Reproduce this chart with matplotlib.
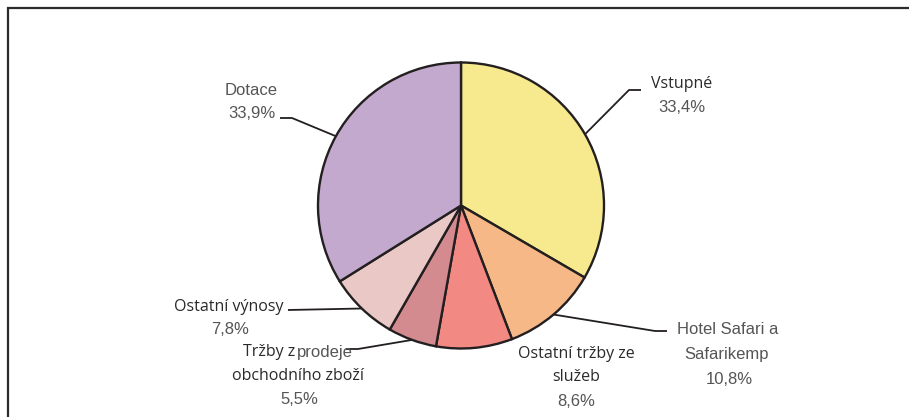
import numpy as np
import matplotlib.pyplot as plt

W, H = 909, 417

categories = ["Vstupné", "Hotel Safari a Safarikemp", "Ostatní tržby ze služeb",
              "Tržby z prodeje obchodního zboží", "Ostatní výnosy", "Dotace"]
shares = [33.4, 10.8, 8.6, 5.5, 7.8, 33.9]
pct_text = ["33,4%", "10,8%", "8,6%", "5,5%", "7,8%", "33,9%"]
colors = ["#f7e98e", "#f6b887", "#f28983", "#d48b8f", "#eac8c6", "#c4a9cf"]

DARK = dict(family=["Open Sans", "DejaVu Sans"], color="#2a2a2a", fontsize=11.5)
THIN = dict(family=["Liberation Sans Narrow", "Liberation Sans", "DejaVu Sans"],
            color="#555555", fontsize=12)


def py(y):
    # pixel row (from top) -> data y
    return H - y


fig = plt.figure(figsize=(W / 100, H / 100), dpi=100)
ax = fig.add_axes([0, 0, 1, 1])

cx, cy, r = 461, py(205.5), 143
wedges, _ = ax.pie(shares, colors=colors, startangle=90, counterclock=False,
                   radius=r, center=(cx, cy),
                   wedgeprops=dict(edgecolor="#231f20", linewidth=1.7))


def edge(i):
    w = wedges[i]
    a = np.deg2rad((w.theta1 + w.theta2) / 2)
    return cx + r * np.cos(a), cy + r * np.sin(a)


def leader(i, pts):
    x0, y0 = edge(i)
    xs = [x0] + [p[0] for p in pts]
    ys = [y0] + [py(p[1]) for p in pts]
    ax.plot(xs, ys, color="#231f20", lw=1.3, solid_capstyle="butt")


# leader lines (elbow + tail, in pixel rows)
leader(0, [(629, 90), (641, 90)])
leader(1, [(655, 331), (667, 331)])
leader(3, [(358, 349), (346, 349)])
leader(4, [(288, 310)])
leader(5, [(292, 118), (280, 118)])

# labels
ax.text(682, py(84), "Vstupné", ha="center", va="center", **DARK)
ax.text(682, py(107), pct_text[0], ha="center", va="center", **THIN)

ax.text(728, py(330), "Hotel Safari a", ha="center", va="center", **THIN)
ax.text(727, py(354), "Safarikemp", ha="center", va="center", **THIN)
ax.text(729, py(379), pct_text[1], ha="center", va="center", **THIN)

ax.text(576, py(354), "Ostatní tržby ze", ha="center", va="center", **DARK)
ax.text(576, py(377), "služeb", ha="center", va="center", **DARK)
ax.text(576, py(401), pct_text[2], ha="center", va="center", **THIN)

ax.text(295, py(352), "Tržby z", ha="right", va="center", **DARK)
ax.text(297, py(352), "prodeje", ha="left", va="center", **THIN)
ax.text(298, py(376), "obchodního zboží", ha="center", va="center", **DARK)
ax.text(299, py(400), pct_text[3], ha="center", va="center", **THIN)

ax.text(229, py(307), "Ostatní výnosy", ha="center", va="center", **DARK)
ax.text(230, py(330), pct_text[4], ha="center", va="center", **THIN)

ax.text(251, py(90), "Dotace", ha="center", va="center", **THIN)
ax.text(252, py(113), pct_text[5], ha="center", va="center", **THIN)

# frame: top and left edges only
ax.plot([8, 8, W], [0, py(8), py(8)], color="#2b2b2b", lw=1.6,
        solid_joinstyle="miter")

ax.set_xlim(0, W)
ax.set_ylim(0, H)
ax.set_aspect("equal")
ax.axis("off")

fig.savefig("out.png", dpi=100)
